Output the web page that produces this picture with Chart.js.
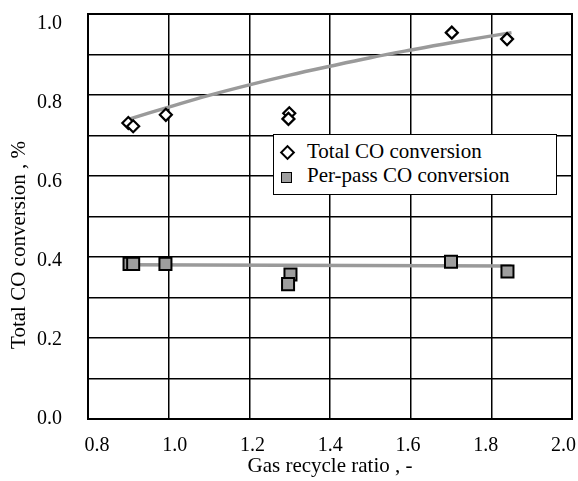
<!DOCTYPE html>
<html><head><meta charset="utf-8">
<script src="https://cdn.jsdelivr.net/npm/chart.js@4.4.1/dist/chart.umd.min.js"></script>
<style>
html,body{margin:0;padding:0;background:#fff;}
#wrap{position:relative;width:578px;height:481px;}
canvas{display:block;}
#legend{position:absolute;left:273px;top:134px;width:282px;height:59px;border:1.5px solid #000;background:#fff;font-family:'Liberation Serif',serif;font-size:21px;color:#000;}
.item{position:absolute;left:33px;white-space:nowrap;line-height:21px;}
.dia{position:absolute;width:7px;height:7px;border:2px solid #000;background:#fff;transform:rotate(45deg);}
.sq{position:absolute;width:9px;height:9px;border:1.5px solid #000;background:#9e9e9e;}
</style></head>
<body><div id="wrap"><canvas id="c" width="578" height="481"></canvas>
<div id="legend">
<div class="dia" style="left:8px;top:12px"></div><div class="item" style="top:6px" id="l1"></div>
<div class="sq" style="left:7px;top:37px"></div><div class="item" style="top:30px" id="l2"></div>
</div></div>
<script>
const xTitle = 'Gas recycle ratio , -';
const yTitle = 'Total CO conversion , %';
const seriesNames = ['Total CO conversion', 'Per-pass CO conversion'];
const totalX = [0.900, 0.912, 0.993, 1.299, 1.297, 1.702, 1.839];
const totalY = [0.731, 0.723, 0.751, 0.755, 0.741, 0.954, 0.938];
const perX = [0.903, 0.912, 0.992, 1.302, 1.296, 1.700, 1.840];
const perY = [0.383, 0.383, 0.383, 0.357, 0.333, 0.388, 0.364];
const trendTotalX = [0.90, 1.0, 1.1, 1.2, 1.3, 1.4, 1.5, 1.6, 1.7, 1.85];
const trendTotalY = [0.740, 0.770, 0.799, 0.825, 0.849, 0.871, 0.892, 0.911, 0.929, 0.954];
const trendPerX = [0.89, 1.85];
const trendPerY = [0.381, 0.378];
const xTicks = [0.8, 1.0, 1.2, 1.4, 1.6, 1.8, 2.0];
const yTicks = [0.0, 0.2, 0.4, 0.6, 0.8, 1.0];
const yGrid = [0.0, 0.1, 0.2, 0.3, 0.4, 0.5, 0.6, 0.7, 0.8, 0.9, 1.0];

document.getElementById('l1').textContent = seriesNames[0];
document.getElementById('l2').textContent = seriesNames[1];

const pts = (xs, ys) => xs.map((x, i) => ({x: x, y: ys[i]}));
const FONT = 'Liberation Serif';

const frame = {
  id: 'frame',
  afterDraw(chart) {
    const {ctx, chartArea: a} = chart;
    ctx.save();
    ctx.strokeStyle = '#000'; ctx.lineWidth = 2;
    ctx.strokeRect(a.left, a.top, a.right - a.left, a.bottom - a.top);
    ctx.translate(19, 245);
    ctx.rotate(-Math.PI / 2);
    ctx.font = '21px "' + FONT + '"';
    ctx.fillStyle = '#000';
    ctx.textAlign = 'center'; ctx.textBaseline = 'middle';
    ctx.fillText(yTitle, 0, 0);
    ctx.restore();
  }
};

const gridOpts = {color: '#000', lineWidth: 1.5, drawTicks: false};

new Chart(document.getElementById('c'), {
  type: 'scatter',
  data: {
    datasets: [
      {label: seriesNames[0], data: pts(totalX, totalY), pointStyle: 'rectRot', radius: 6, borderWidth: 2.2, borderColor: '#000', backgroundColor: '#fff', order: 1},
      {label: seriesNames[1], data: pts(perX, perY), pointStyle: 'rect', radius: 8.5, borderWidth: 2, borderColor: '#000', backgroundColor: '#9e9e9e', order: 1},
      {type: 'line', label: 'trend1', data: pts(trendTotalX, trendTotalY), showLine: true, borderColor: '#9a9a9a', borderWidth: 3.5, pointRadius: 0, tension: 0.4, fill: false, order: 2},
      {type: 'line', label: 'trend2', data: pts(trendPerX, trendPerY), showLine: true, borderColor: '#9a9a9a', borderWidth: 3.5, pointRadius: 0, fill: false, order: 2}
    ]
  },
  options: {
    responsive: false, animation: false,
    layout: {autoPadding: false, padding: {left: 0, top: 14, right: 6, bottom: 0}},
    plugins: {legend: {display: false}, tooltip: {enabled: false}},
    scales: {
      x: {
        type: 'linear', position: 'bottom', min: 0.8, max: 2.0,
        afterBuildTicks: s => { s.ticks = xTicks.map(v => ({value: v})); },
        afterFit: s => { s.height = 0; s.paddingLeft = 0; s.paddingRight = 0; },
        grid: gridOpts,
        border: {display: false},
        ticks: {display: false}
      },
      xLabels: {
        type: 'linear', position: 'bottom', min: 0.7768, max: 2.0218,
        afterBuildTicks: s => { s.ticks = xTicks.map(v => ({value: v})); },
        afterFit: s => { s.height = 62; s.paddingLeft = 0; s.paddingRight = 0; },
        grid: {display: false},
        border: {display: false},
        ticks: {padding: 7, color: '#000', font: {family: FONT, size: 20}, callback: v => Number(v).toFixed(1), maxRotation: 0, autoSkip: false},
        title: {display: true, text: xTitle, color: '#000', font: {family: FONT, size: 21}, padding: {top: 2, bottom: 2}}
      },
      y: {
        min: 0, max: 1, position: 'left',
        afterBuildTicks: s => { s.ticks = yGrid.map(v => ({value: v})); },
        afterFit: s => { s.width = 0; s.paddingTop = 0; s.paddingBottom = 0; },
        grid: gridOpts,
        border: {display: false},
        ticks: {display: false}
      },
      yLabels: {
        min: 0, max: 1.0248, position: 'left',
        afterBuildTicks: s => { s.ticks = yTicks.map(v => ({value: v})); },
        afterFit: s => { s.width = 88; s.paddingTop = 0; s.paddingBottom = 0; },
        grid: {display: false},
        border: {display: false},
        ticks: {padding: 18, color: '#000', font: {family: FONT, size: 20}, autoSkip: false, callback: v => Number(v).toFixed(1)}
      }
    }
  },
  plugins: [frame]
});
</script></body></html>
